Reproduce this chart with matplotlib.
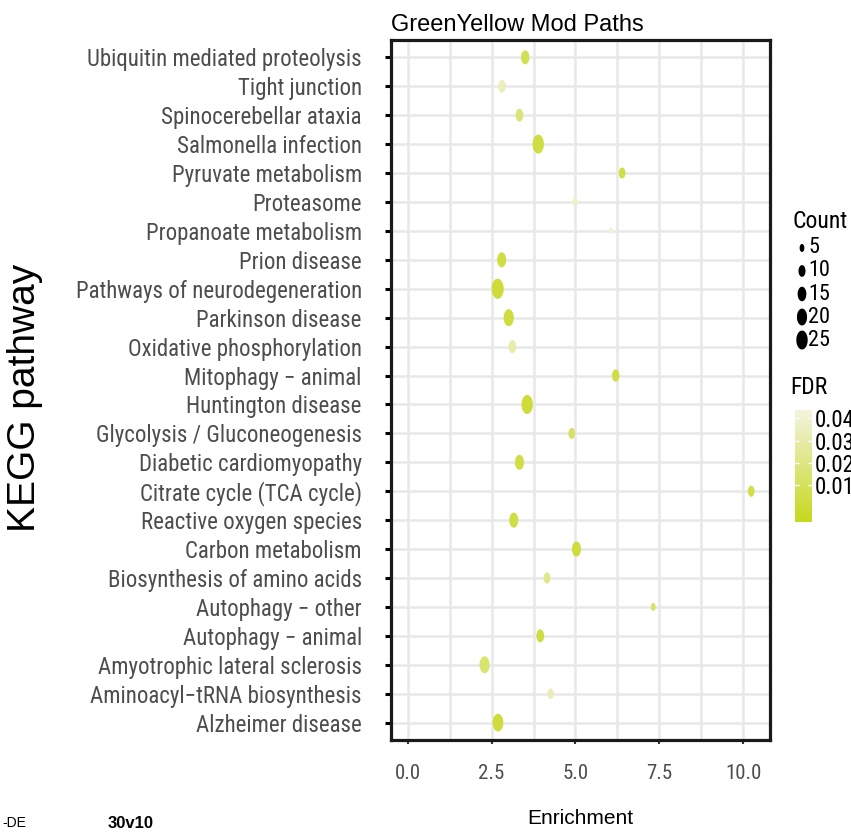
import numpy as np
import matplotlib
matplotlib.use('Agg')
import matplotlib.pyplot as plt
from matplotlib import font_manager
from matplotlib.path import Path
from matplotlib.markers import MarkerStyle
from matplotlib.colors import LinearSegmentedColormap, Normalize
from matplotlib.cm import ScalarMappable

# data, top to bottom as shown
pathways = [
    'Ubiquitin mediated proteolysis', 'Tight junction', 'Spinocerebellar ataxia',
    'Salmonella infection', 'Pyruvate metabolism', 'Proteasome',
    'Propanoate metabolism', 'Prion disease', 'Pathways of neurodegeneration',
    'Parkinson disease', 'Oxidative phosphorylation', 'Mitophagy \u2212 animal',
    'Huntington disease', 'Glycolysis / Gluconeogenesis', 'Diabetic cardiomyopathy',
    'Citrate cycle (TCA cycle)', 'Reactive oxygen species', 'Carbon metabolism',
    'Biosynthesis of amino acids', 'Autophagy \u2212 other', 'Autophagy \u2212 animal',
    'Amyotrophic lateral sclerosis', 'Aminoacyl\u2212tRNA biosynthesis', 'Alzheimer disease',
]
enrichment = [3.50, 2.81, 3.33, 3.89, 6.39, 4.99, 6.05, 2.80, 2.68, 3.01, 3.12, 6.20,
              3.56, 4.89, 3.33, 10.24, 3.16, 5.03, 4.15, 7.32, 3.95, 2.29, 4.26, 2.69]
counts = [14, 12, 12, 25, 9, 6, 4, 16, 28, 20, 12, 11,
          25, 9, 16, 9, 16, 16, 9, 5, 12, 20, 8, 22]
fdr = [0.008, 0.035, 0.018, 0.003, 0.005, 0.038, 0.043, 0.004, 0.001, 0.002, 0.030, 0.004,
       0.001, 0.012, 0.004, 0.006, 0.004, 0.002, 0.022, 0.012, 0.003, 0.015, 0.033, 0.002]

count_breaks = [5, 10, 15, 20, 25]
fdr_ticks = [0.01, 0.02, 0.03, 0.04]
x_ticks = [0.0, 2.5, 5.0, 7.5, 10.0]

W, H = 851, 832

names = {f.name for f in font_manager.fontManager.ttflist}
narrow = next((n for n in ['Liberation Sans Narrow', 'Roboto Condensed'] if n in names),
              'Liberation Sans')
NARROW = [narrow, 'DejaVu Sans']
REG = ['Liberation Sans', 'DejaVu Sans']


def fx(px):
    return px / W


def fy(py):
    return 1 - py / H


def dot_size(c):
    # marker height in points
    h_px = np.sqrt(14.8 * np.asarray(c, dtype=float) - 10)
    return (h_px * 0.72) ** 2


t = np.linspace(0, 2 * np.pi, 64)
ellipse = MarkerStyle(Path(np.column_stack([0.6 * np.cos(t), np.sin(t)]), closed=True))

cmap = LinearSegmentedColormap.from_list('fdr', ['#c6d81c', '#f3f3de'])
norm = Normalize(vmin=-0.0066, vmax=0.0437)

fig = plt.figure(figsize=(W / 100, H / 100), dpi=100)
ax = fig.add_axes([fx(391), fy(740), fx(770) - fx(391), fy(40) - fy(740)])

n = len(pathways)
ypos = np.arange(n)[::-1]
ax.scatter(enrichment, ypos, s=dot_size(counts), c=fdr, cmap=cmap, norm=norm,
           marker=ellipse, edgecolors='none', zorder=3)

ax.set_xlim(-0.5, 10.8)
ax.set_ylim(-0.6, n - 0.4)
ax.set_yticks(ypos)
ax.set_yticklabels(pathways, fontfamily=NARROW, fontsize=16.5, color='#4d4d4d')
ax.set_xticks(x_ticks)
ax.set_xticklabels(['%.1f' % v for v in x_ticks], fontfamily=NARROW, fontsize=15,
                   color='#4d4d4d')
ax.set_xticks(np.arange(1.25, 10.8, 2.5), minor=True)
ax.tick_params(axis='y', length=4, width=2.2, color='black', pad=17)
ax.tick_params(axis='x', which='major', length=3, width=1.5, color='#333333', pad=14)
ax.tick_params(axis='x', which='minor', length=0)
ax.grid(True, which='both', color='#e8e8e8', lw=1.8, zorder=0)
ax.set_axisbelow(True)
for sp in ax.spines.values():
    sp.set_linewidth(2.3)
    sp.set_color('#1a1a1a')

fig.text(fx(391), fy(31), 'GreenYellow Mod Paths', fontfamily=REG, fontsize=17,
         ha='left', va='baseline')
fig.text(fx(580), fy(818), 'Enrichment', fontfamily=REG, fontsize=15,
         ha='center', va='center')
fig.text(fx(25), fy(398), 'KEGG pathway', fontfamily=REG, fontsize=28,
         rotation=90, ha='center', va='center')

# size legend
lax = fig.add_axes([fx(795), fy(352), fx(851) - fx(795), fy(236) - fy(352)])
lax.set_xlim(0, 1)
lax.set_ylim(4.52, -0.52)
lax.axis('off')
lax.scatter(np.full(len(count_breaks), 0.125), np.arange(len(count_breaks)),
            s=dot_size(count_breaks), c='black', marker=ellipse, edgecolors='none')
for i, b in enumerate(count_breaks):
    lax.text(0.24, i, str(b), fontfamily=NARROW, fontsize=16, va='center', ha='left')
fig.text(fx(793), fy(221), 'Count', fontfamily=NARROW, fontsize=17, ha='left', va='center')

# colour bar
fig.text(fx(790), fy(387), 'FDR', fontfamily=NARROW, fontsize=17, ha='left', va='center')
cax = fig.add_axes([fx(795), fy(522), fx(812) - fx(795), fy(410) - fy(522)])
cb = fig.colorbar(ScalarMappable(norm=norm, cmap=cmap), cax=cax)
cb.outline.set_visible(False)
cb.set_ticks(fdr_ticks)
cb.set_ticklabels(['%.2f' % v for v in fdr_ticks])
cax.tick_params(axis='y', direction='in', length=3, width=1, color='white', pad=2,
                left=True, labelsize=16.5)
for lb in cax.get_yticklabels():
    lb.set_fontfamily(NARROW)

fig.text(fx(2), fy(823), '-DE', fontfamily=REG, fontsize=10, ha='left', va='center')
fig.text(fx(108), fy(823), '30v10', fontfamily=REG, fontsize=12, fontweight='bold',
         ha='left', va='center')

fig.savefig('out.png', dpi=100)
